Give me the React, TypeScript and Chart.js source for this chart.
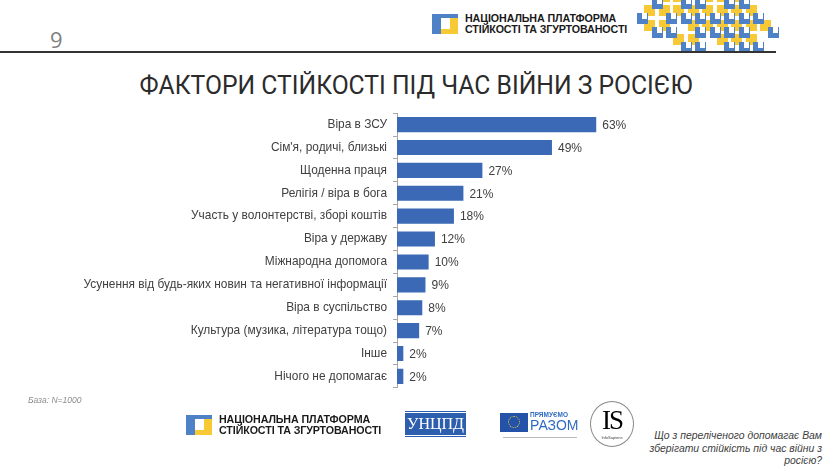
import React, { useEffect, useRef } from "react";
import { Chart, registerables } from "chart.js";

Chart.register(...registerables);

const categories = [
  "Віра в ЗСУ",
  "Сім'я, родичі, близькі",
  "Щоденна праця",
  "Релігія / віра в бога",
  "Участь у волонтерстві, зборі коштів",
  "Віра у державу",
  "Міжнародна допомога",
  "Усунення від будь-яких новин та негативної інформації",
  "Віра в суспільство",
  "Культура (музика, література тощо)",
  "Інше",
  "Нічого не допомагає",
];
const values = [63, 49, 27, 21, 18, 12, 10, 9, 8, 7, 2, 2];
const valueSuffix = "%";

const titleText = "ФАКТОРИ СТІЙКОСТІ ПІД ЧАС ВІЙНИ З РОСІЄЮ";
const pageNumber = "9";
const baseNote = "База: N=1000";
const questionLines = [
  "Що з переліченого допомагає Вам",
  "зберігати стійкість під час війни з",
  "росією?",
];
const platformLines = ["НАЦІОНАЛЬНА ПЛАТФОРМА", "СТІЙКОСТІ ТА ЗГУРТОВАНОСТІ"];

const BLUE = "#3B69B5";
const YEL = "#F7C935";
const LBLUE = "#4F81C7";

const valueLabelPlugin = {
  id: "valueLabels",
  afterDatasetsDraw(chart: any) {
    const ctx = chart.ctx;
    const meta = chart.getDatasetMeta(0);
    ctx.save();
    ctx.font = "12px 'Liberation Sans', Arial, sans-serif";
    ctx.fillStyle = "#404040";
    ctx.textBaseline = "middle";
    ctx.textAlign = "left";
    meta.data.forEach((bar: any, i: number) => {
      ctx.fillText(values[i] + valueSuffix, bar.x + 6, bar.y + 1);
    });
    ctx.restore();
  },
};

function PlatformLogo({ x, y }: { x: number; y: number }) {
  return (
    <div style={{ position: "absolute", left: x, top: y, display: "flex", alignItems: "center" }}>
      <div style={{ position: "relative", width: 26, height: 20, background: YEL }}>
        <div style={{ position: "absolute", left: 0, top: 0, width: 9, height: 20, background: LBLUE }} />
        <div style={{ position: "absolute", left: 0, top: 0, width: 26, height: 4, background: LBLUE }} />
        <div style={{ position: "absolute", left: 9, top: 4, width: 9, height: 11, background: "#fff" }} />
      </div>
      <div
        style={{
          marginLeft: 7,
          fontFamily: "'Liberation Sans', Arial, sans-serif",
          fontWeight: 700,
          fontSize: 10.7,
          lineHeight: "11px",
          color: "#1a1a1a",
          letterSpacing: -0.1,
        }}
      >
        {platformLines[0]}
        <br />
        {platformLines[1]}
      </div>
    </div>
  );
}

// decorative pattern: blue notched cells on a 14.5px grid, yellow cells offset by half a step
const blueRows: Array<[number, number[]]> = [
  [0, [1, 3, 4, 6, 7]],
  [1, [0, 2, 3, 4, 5, 6, 7, 8]],
  [2, [1, 2, 4, 5, 6, 7, 9]],
  [3, [3, 4, 6, 7, 8]],
];
const yellowRows: Array<[number, number[]]> = [
  [-1, [1, 2, 4, 5, 6]],
  [0, [0, 1, 2, 3, 4, 5, 6, 7]],
  [1, [0, 1, 3, 4, 5, 6, 7, 8]],
  [2, [2, 3, 5, 6, 7]],
];

function Pattern() {
  const p = 14.5;
  const s = 11;
  const x0 = 637;
  const y0 = -2;
  const cells: any[] = [];
  yellowRows.forEach(([r, cols]) =>
    cols.forEach((c) =>
      cells.push(
        <div
          key={"y" + r + "_" + c}
          style={{ position: "absolute", left: x0 + c * p + 7, top: y0 + r * p + 7, width: s, height: s, background: YEL }}
        />
      )
    )
  );
  blueRows.forEach(([r, cols]) =>
    cols.forEach((c) =>
      cells.push(
        <div
          key={"b" + r + "_" + c}
          style={{ position: "absolute", left: x0 + c * p, top: y0 + r * p, width: s, height: s, background: LBLUE }}
        >
          <div style={{ position: "absolute", left: 5, top: 0, width: 5, height: 6, background: "#fff" }} />
        </div>
      )
    )
  );
  return (
    <div style={{ position: "absolute", left: 0, top: 0, width: 826, height: 52, overflow: "hidden" }}>{cells}</div>
  );
}

export default function App() {
  const canvasRef = useRef<HTMLCanvasElement | null>(null);

  useEffect(() => {
    document.body.style.margin = "0";
    const canvas = canvasRef.current;
    if (!canvas) return;
    const chart = new Chart(canvas, {
      type: "bar",
      data: {
        labels: categories,
        datasets: [
          {
            data: values,
            backgroundColor: BLUE,
            borderWidth: 0,
            barPercentage: 0.66,
            categoryPercentage: 1,
          },
        ],
      },
      plugins: [valueLabelPlugin],
      options: {
        indexAxis: "y",
        animation: false,
        responsive: false,
        maintainAspectRatio: false,
        layout: { padding: { top: 3, bottom: 2, right: 10, left: 0 } },
        plugins: { legend: { display: false }, tooltip: { enabled: false } },
        scales: {
          x: {
            display: false,
            min: 0,
            max: 80,
          },
          y: {
            afterFit(scale: any) {
              scale.width = 397;
            },
            border: { display: true, color: "#A6A6A6", width: 1 },
            grid: {
              display: true,
              drawOnChartArea: false,
              drawTicks: true,
              tickLength: 4,
              color: "#A6A6A6",
              offset: true,
            },
            ticks: {
              color: "#404040",
              padding: 6,
              font: { family: "'Liberation Sans', Arial, sans-serif", size: 11.9 },
            },
          },
        },
      },
    });
    return () => chart.destroy();
  }, []);

  return (
    <div style={{ position: "relative", width: 826, height: 466, background: "#fff", overflow: "hidden" }}>
      <div
        style={{
          position: "absolute",
          left: 50,
          top: 26,
          fontFamily: "'Open Sans', sans-serif",
          fontSize: 22,
          color: "#7f7f7f",
          lineHeight: "26px",
        }}
      >
        {pageNumber}
      </div>
      <Pattern />
      <div style={{ position: "absolute", left: 0, top: 51, width: 776, height: 2, background: "#333" }} />
      <PlatformLogo x={432} y={13} />
      <div
        style={{
          position: "absolute",
          left: 0,
          top: 69,
          width: 826,
          textAlign: "center",
          fontFamily: "Roboto, sans-serif",
          fontSize: 26,
          lineHeight: "32px",
          color: "#2b2b2b",
        }}
      >
        <span style={{ display: "inline-block", transform: "scaleX(0.95)", transformOrigin: "50% 50%", marginLeft: 6 }}>
          {titleText}
        </span>
      </div>
      <canvas
        ref={canvasRef}
        width={660}
        height={301}
        style={{ position: "absolute", left: 0, top: 100, width: 660, height: 301 }}
      />
      <div
        style={{
          position: "absolute",
          left: 28,
          top: 395,
          fontFamily: "'Liberation Sans', Arial, sans-serif",
          fontStyle: "italic",
          fontSize: 8.5,
          color: "#8c8c8c",
        }}
      >
        {baseNote}
      </div>
      <PlatformLogo x={186} y={414} />
      <div
        style={{
          position: "absolute",
          left: 405,
          top: 411,
          width: 61,
          height: 26,
          background: "#fff",
          boxSizing: "border-box",
        }}
      >
        <div style={{ position: "absolute", left: 0, top: 2, width: 61, height: 22, background: "#2E5FAE" }} />
        <div style={{ position: "absolute", left: 0, top: 0, width: 61, height: 1, background: "#2E5FAE" }} />
        <div style={{ position: "absolute", left: 0, top: 25, width: 61, height: 1, background: "#2E5FAE" }} />
        <div
          style={{
            position: "absolute",
            left: 0,
            top: 2,
            width: 61,
            height: 22,
            textAlign: "center",
            fontFamily: "'Liberation Serif', serif",
            fontSize: 16,
            lineHeight: "22px",
            color: "#fff",
          }}
        >
          УНЦПД
        </div>
      </div>
      <div style={{ position: "absolute", left: 500, top: 413, width: 28, height: 19, background: "#2452A8" }}>
        <div
          style={{
            position: "absolute",
            left: 8,
            top: 3,
            width: 12,
            height: 12,
            borderRadius: "50%",
            border: "1px dotted #F4D03F",
            boxSizing: "border-box",
          }}
        />
      </div>
      <div
        style={{
          position: "absolute",
          left: 530,
          top: 411,
          fontFamily: "'Liberation Sans', Arial, sans-serif",
          color: "#2E6BC0",
          fontWeight: 700,
          fontSize: 6.5,
          lineHeight: "7px",
        }}
      >
        ПРЯМУЄМО
      </div>
      <div
        style={{
          position: "absolute",
          left: 530,
          top: 417,
          fontFamily: "'Liberation Sans', Arial, sans-serif",
          color: "#2E6BC0",
          fontSize: 14,
          lineHeight: "16px",
        }}
      >
        РАЗОМ
      </div>
      <div style={{ position: "absolute", left: 503, top: 437, width: 74, height: 1, background: "#bbb" }} />
      <div
        style={{
          position: "absolute",
          left: 590,
          top: 401,
          width: 44,
          height: 46,
          borderRadius: "50%",
          border: "1px solid #888",
          boxSizing: "border-box",
          textAlign: "center",
        }}
      >
        <div
          style={{
            fontFamily: "'Liberation Serif', serif",
            fontSize: 27,
            lineHeight: "30px",
            marginTop: 3,
            color: "#000",
            letterSpacing: -2,
          }}
        >
          IS
        </div>
        <div style={{ fontFamily: "'Liberation Sans', sans-serif", fontSize: 4, color: "#444", lineHeight: "5px" }}>
          InfoSapiens
        </div>
      </div>
      <div
        style={{
          position: "absolute",
          right: 4,
          top: 430,
          textAlign: "right",
          fontFamily: "'Liberation Sans', Arial, sans-serif",
          fontStyle: "italic",
          fontSize: 10.4,
          lineHeight: "12.5px",
          color: "#404040",
        }}
      >
        {questionLines.map((l, i) => (
          <div key={i}>{l}</div>
        ))}
      </div>
    </div>
  );
}
